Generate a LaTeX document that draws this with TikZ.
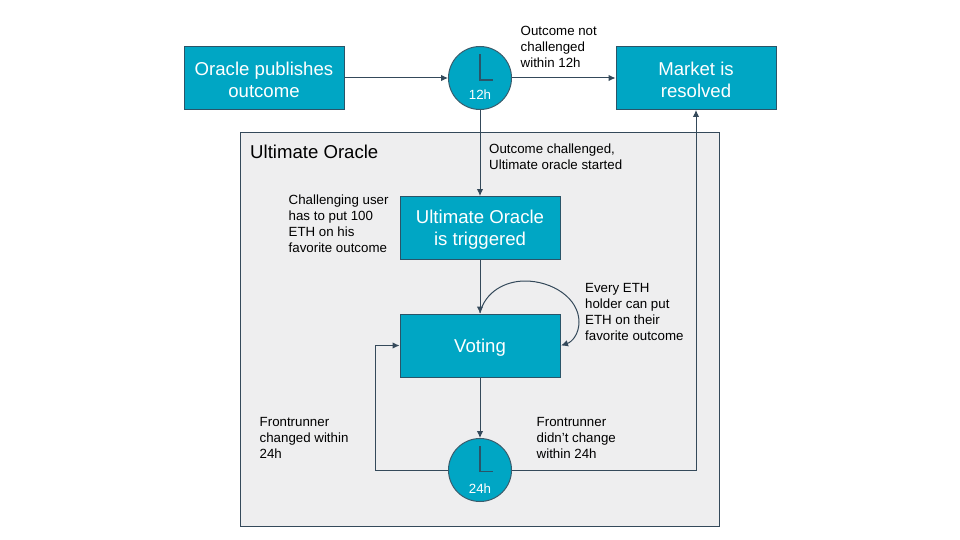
\documentclass[tikz,border=0pt]{standalone}
\usepackage{fontspec}
\setmainfont{Liberation Sans}
\usetikzlibrary{arrows.meta,positioning}
\definecolor{teal1}{HTML}{00A6C4}
\definecolor{edge1}{HTML}{2A5468}
\definecolor{line1}{HTML}{34495A}
\definecolor{panel}{HTML}{EEEEEF}
\newcommand{\bigsz}{\fontsize{18.6}{22.5}\selectfont}
\newcommand{\smallsz}{\fontsize{13.3}{16}\selectfont}
\newcommand{\boxtxt}[1]{\parbox{158pt}{\vspace*{3.4pt}\centering #1}}
\tikzset{
  x=1pt,y=-1pt,
  stepbox/.style={draw=edge1,line width=1pt,fill=teal1,text=white,minimum width=160pt,minimum height=63pt,inner sep=0pt,font=\bigsz},
  clockface/.style={circle,draw=edge1!80!gray,line width=1pt,fill=teal1,minimum size=63pt,inner sep=0pt},
  conn/.style={draw=line1,line width=1pt,-{Latex[length=7pt,width=6.5pt]}},
  lab/.style={anchor=north west,align=left,inner sep=0pt,font=\smallsz,text=black},
  hand/.style={draw=edge1,line width=1.4pt},
  clocktext/.style={text=white,font=\smallsz,inner sep=0pt}
}
\begin{document}
\begin{tikzpicture}
\useasboundingbox (0,0) rectangle (960,540);
\fill[white] (0,0) rectangle (960,540);
\node[draw=line1,line width=0.9pt,fill=panel,minimum width=479pt,minimum height=394pt,inner sep=0pt] (panelbox) at (480,329) {};
\node[anchor=north west,inner sep=0pt,font=\fontsize{18.6}{22}\selectfont] (paneltitle) at (250,144.5) {Ultimate Oracle};

\node[stepbox] (publish) at (264,78) {\boxtxt{Oracle publishes\\outcome}};
\node[stepbox] (resolved) at (696,78) {\boxtxt{Market is\\resolved}};
\node[stepbox] (trigger) at (480,228) {\boxtxt{Ultimate Oracle\\is triggered}};
\node[stepbox] (voting) at (480,345.5) {\boxtxt{Voting}};

\node[clockface] (clockA) at (480,78) {};
\node[clockface] (clockB) at (480,470) {};
\draw[hand] (480,54.5) -- (480,80) -- (492.5,80);
\draw[hand] (480,446) -- (480,471.5) -- (492.5,471.5);
\node[clocktext] (clockAtext) at (480,94.5) {12h};
\node[clocktext] (clockBtext) at (480,488.5) {24h};

\draw[conn] (publish.east) -- (clockA.west);
\draw[conn] (clockA.east) -- (resolved.west);
\draw[conn] (clockA.south) -- (trigger.north);
\draw[conn] (trigger.south) -- (voting.north);
\draw[conn] (voting.south) -- (clockB.north);
\draw[conn] (clockB.west) -- (375,470) -- (375,345.5) -- (voting.west);
\draw[conn] (clockB.east) -- (696,470) -- (resolved.south);
\draw[conn] (480,313) .. controls (485,292) and (505,281) .. (525,281) .. controls (552,281) and (579,298) .. (579,322) .. controls (579,334) and (572,342) .. (561,345.5);

\node[lab] (t1) at (520.5,26) {Outcome not\\challenged\\within 12h};
\node[lab] (t2) at (489,144) {Outcome challenged,\\Ultimate oracle started};
\node[lab] (t3) at (288.5,194.5) {Challenging user\\has to put 100\\ETH on his\\favorite outcome};
\node[lab] (t4) at (585,283) {Every ETH\\holder can put\\ETH on their\\favorite outcome};
\node[lab] (t5) at (259.5,417) {Frontrunner\\changed within\\24h};
\node[lab] (t6) at (536.5,417) {Frontrunner\\didn’t change\\within 24h};
\end{tikzpicture}
\end{document}
